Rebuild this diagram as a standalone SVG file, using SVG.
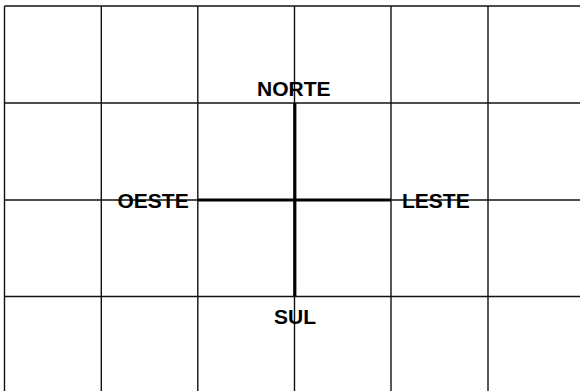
<svg xmlns="http://www.w3.org/2000/svg" width="580" height="391" viewBox="0 0 580 391">
<style>
.grid line{stroke:#111;stroke-width:1.4}
.cross line{stroke:#000;stroke-width:3.2}
text{font-family:"Liberation Sans",Arial,sans-serif;font-weight:bold;font-size:21px;fill:#000}
</style>
<rect width="580" height="391" fill="#fff"/>
<g id="grid" class="grid">
<line x1="4.5" y1="6" x2="580" y2="6"/>
<line x1="4.5" y1="103" x2="580" y2="103"/>
<line x1="4.5" y1="200" x2="580" y2="200"/>
<line x1="4.5" y1="296.5" x2="580" y2="296.5"/>
<line x1="4.5" y1="6" x2="4.5" y2="391"/>
<line x1="101.3" y1="6" x2="101.3" y2="391"/>
<line x1="197.8" y1="6" x2="197.8" y2="391"/>
<line x1="294.5" y1="6" x2="294.5" y2="391"/>
<line x1="391" y1="6" x2="391" y2="391"/>
<line x1="488" y1="6" x2="488" y2="391"/>
</g>
<g id="connectors" class="cross">
<line x1="294.8" y1="103" x2="294.8" y2="296"/>
<line x1="198" y1="200" x2="391" y2="200"/>
</g>
<g id="norte"><text x="257" y="96">NORTE</text></g>
<g id="oeste"><text x="117.5" y="207.5">OESTE</text></g>
<g id="leste"><text x="402" y="208">LESTE</text></g>
<g id="sul"><text x="274" y="324">SUL</text></g>
</svg>
